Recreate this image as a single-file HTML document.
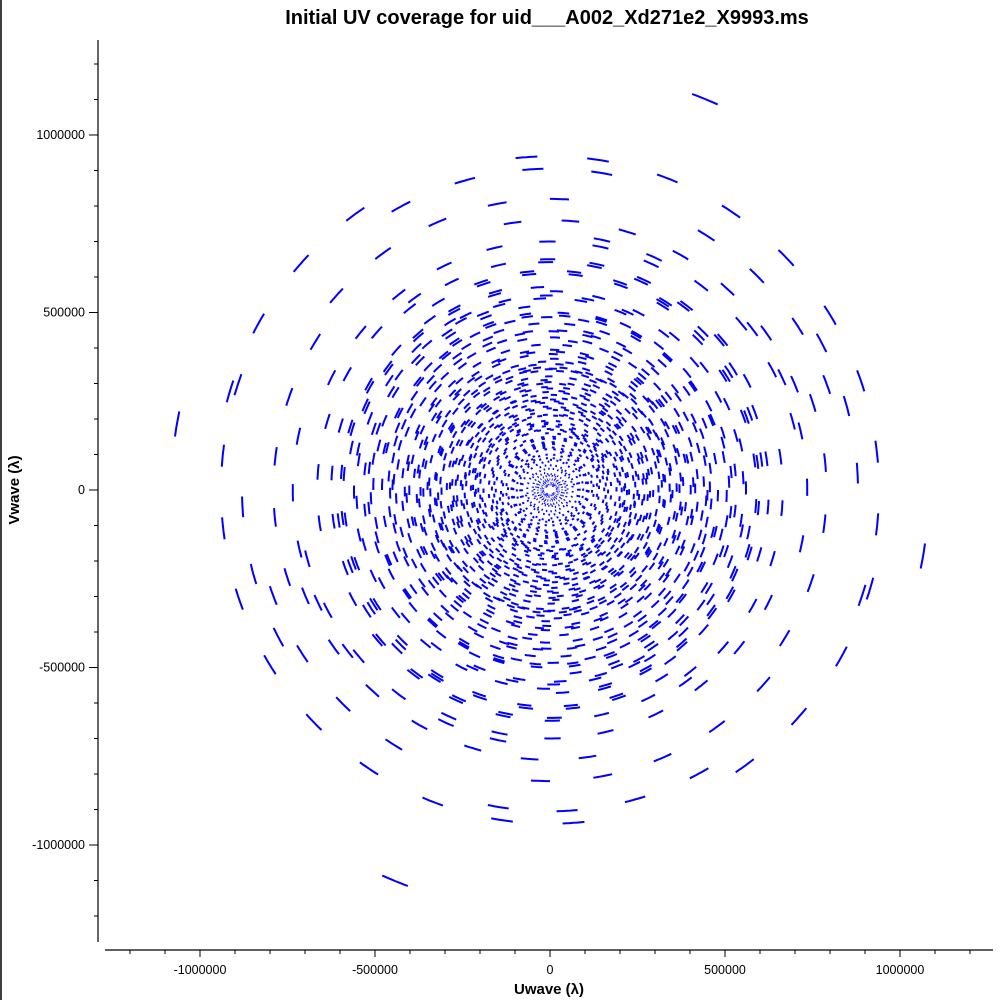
<!DOCTYPE html>
<html><head><meta charset="utf-8">
<style>
html,body{margin:0;padding:0;background:#fff;}
body{width:1000px;height:1000px;overflow:hidden;position:relative;font-family:"Liberation Sans",sans-serif;}
svg{position:absolute;left:0;top:0;}
</style></head>
<body>
<svg id="chart" width="1000" height="1000">
  <line x1="1" y1="0" x2="1" y2="1000" stroke="#000" stroke-width="1.5"/>
  <text x="547" y="24" text-anchor="middle" font-size="20" font-weight="bold" font-family="Liberation Sans, sans-serif">Initial UV coverage for uid___A002_Xd271e2_X9993.ms</text>
  <text x="549" y="994" text-anchor="middle" font-size="15" font-weight="bold" font-family="Liberation Sans, sans-serif">Uwave (λ)</text>
  <text x="19" y="490" text-anchor="middle" font-size="15" font-weight="bold" font-family="Liberation Sans, sans-serif" transform="rotate(-90 19 490)">Vwave (λ)</text>
  <g id="axes"></g>
  <g id="marks"></g>
</svg>
<script>
// Baseline data (radius in kilo-lambda, start position angle in degrees, number of scans)
const radii = [1187,1082,940,956,880,905,820,845,760,790,700,720,735,650,665,610,625,580,590,560,540,520,505,500,480,470,450,440,430,415,410,395,390,375,370,355,350,340,330,320,310,300,295,290,280,270,260,255,250,240,235,230,220,215,210,200,195,190,180,175,170,160,155,150,140,130,125,120,110,100,95,90,85,80,70,65,60,50,45,40,35,30,25,20,15,
  642,598,572,548,532,512,492,462,447,423,402,383,362,346,336,326,314,304,286,276,266,246,226,205,186,166,145,135,115,105,618,553,487,457,381,342,268,244,212,172];
const startAngles = [70,172,96,165,30,120,140,60,100,20,155,80,40,130,10,110,60,170,35,90,145,20,75,125,50,160,100,30,140,65,5,115,175,45,90,150,25,130,70,105,15,160,50,120,85,35,145,10,100,60,170,130,25,80,150,45,110,15,135,70,165,95,40,125,55,150,20,100,75,135,40,160,90,15,115,60,145,30,100,170,65,130,20,90,150,
  93,47,158,118,8,67,137,22,178,83,52,128,3,98,162,33,72,143,12,107,57,172,88,27,133,63,112,8,148,38,123,18,168,78,43,103,152,68,3,118];
const scanCounts = [1,1,10,4,3,4,5,4,7,5,8,6,5,8,6,9,7,6,8,9,7,9,8,9,9,8,9,9,9,9,9,9,9,9,9,9,9,9,9,9,9,9,9,9,9,9,9,9,9,9,9,9,9,9,9,9,9,9,9,9,9,9,9,9,9,9,9,9,9,9,9,9,9,9,9,9,9,9,9,9,9,9,9,9,9,
  6,7,6,8,7,8,7,8,9,8,9,8,9,9,8,9,9,8,9,9,8,9,9,8,9,9,9,9,9,9,6,7,8,9,8,9,9,8,9,9];
const xTickValues = [-1200000,-1100000,-1000000,-900000,-800000,-700000,-600000,-500000,-400000,-300000,-200000,-100000,0,100000,200000,300000,400000,500000,600000,700000,800000,900000,1000000,1100000,1200000];
const yTickValues = [-1200000,-1100000,-1000000,-900000,-800000,-700000,-600000,-500000,-400000,-300000,-200000,-100000,0,100000,200000,300000,400000,500000,600000,700000,800000,900000,1000000,1100000,1200000];
const majorLabels = ["-1000000","-500000","0","500000","1000000"];

const SCAN_STEP = 12.5, SCAN_LEN = 3.8;
const NS = "http://www.w3.org/2000/svg";
function xScale(u){ return 550 + u * 175/500000; }
function yScale(v){ return 490 - v * 355/1000000; }

const axes = document.getElementById('axes');
function mk(tag, attrs, parent){ const e=document.createElementNS(NS,tag); for(const k in attrs) e.setAttribute(k,attrs[k]); parent.appendChild(e); return e; }

let yl = mk('line',{x1:98,y1:40,x2:98,y2:942,stroke:'#000','stroke-width':1.2},axes);


let xl = mk('line',{x1:105,y1:950,x2:993,y2:950,stroke:'#000','stroke-width':1.2},axes);



xTickValues.forEach(v=>{
  const x=xScale(v); const major = (v%500000===0);
  const t=mk('line',{x1:x,y1:950,x2:x,y2:major?957:954,stroke:'#000','stroke-width':1},axes);
  
  
  if(major && majorLabels.includes(String(v))){
    const l=mk('text',{x:x,y:974,'text-anchor':'middle','font-size':12.5,'font-family':'Liberation Sans, sans-serif'},axes);
    l.textContent=String(v);
    
    
  }
});
yTickValues.forEach(v=>{
  const y=yScale(v); const major=(v%500000===0);
  const t=mk('line',{x1:major?89:94,y1:y,x2:98,y2:y,stroke:'#000','stroke-width':1},axes);
  
  
  if(major && majorLabels.includes(String(v))){
    const l=mk('text',{x:85,y:y+4,'text-anchor':'end','font-size':12.5,'font-family':'Liberation Sans, sans-serif'},axes);
    l.textContent=String(v);
    
    
  }
});

const marks=document.getElementById('marks');
radii.forEach((r,i)=>{
  const R=r*1000;
  for(let s=0;s<scanCounts[i];s++){
    const a0=startAngles[i]-s*SCAN_STEP;
    [0,180].forEach(off=>{
      let d='';
      for(let k=0;k<=6;k++){
        const a=(a0+off-k*SCAN_LEN/6)*Math.PI/180;
        const x=xScale(R*Math.cos(a)), y=yScale(R*Math.sin(a));
        d+=(k?'L':'M')+x.toFixed(1)+' '+y.toFixed(1);
      }
      const p=mk('path',{d:d,fill:'none',stroke:'#0000ff','stroke-width':2},marks);
      
      
    });
  }
});
</script>
</body></html>
